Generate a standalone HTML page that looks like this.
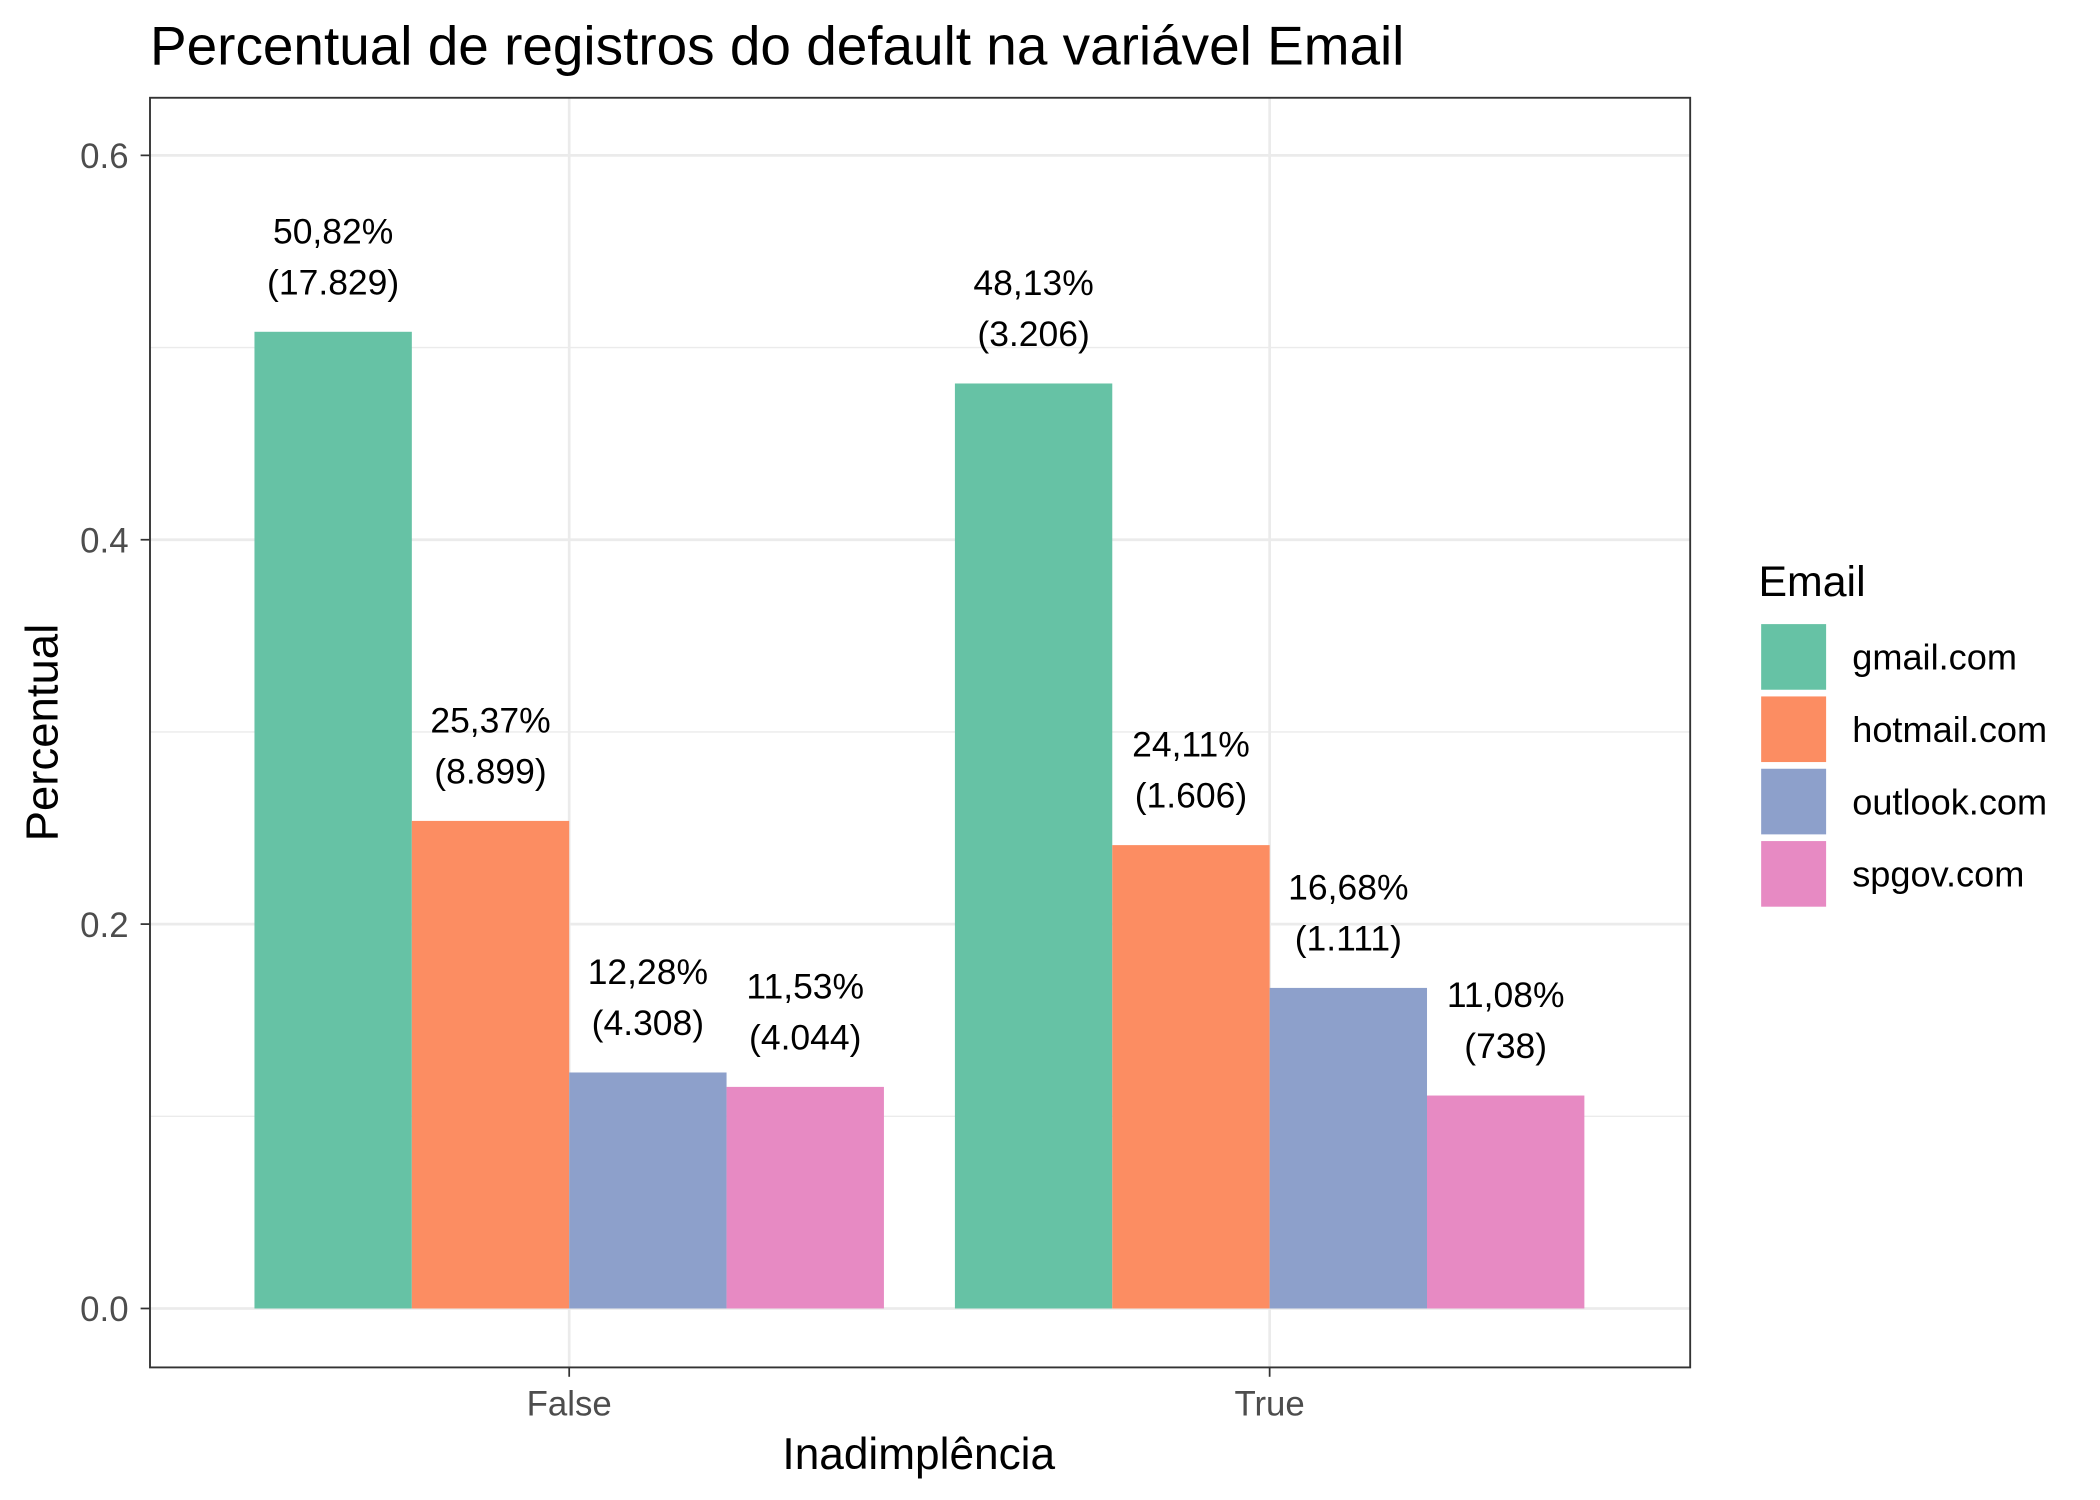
<!DOCTYPE html>
<html><head><meta charset="utf-8"><style>html,body{margin:0;padding:0;background:#fff}svg{display:block}text{font-family:"Liberation Sans",Arial,sans-serif}</style></head>
<body>
<svg id="chart" width="2100" height="1500" viewBox="0 0 1568 1120" preserveAspectRatio="none" xmlns="http://www.w3.org/2000/svg">
<rect width="1568" height="1120" fill="#fff"/>
<text x="112" y="48" font-size="41" fill="#000">Percentual de registros do default na variável Email</text>
<g id="grid"></g>
<g id="bars"></g>
<g id="labels"></g>
<rect x="112" y="73" width="1150" height="948" fill="none" stroke="#333" stroke-width="1.4"/>
<g id="axes"></g>
<text x="686" y="1097" font-size="33" text-anchor="middle" fill="#000">Inadimplência</text>
<text x="0" y="0" font-size="34" text-anchor="middle" fill="#000" transform="translate(43,547) rotate(-90)">Percentual</text>
<g id="legend"><text x="1313" y="445" font-size="32" fill="#000">Email</text></g>
</svg>
<script>
const categories = ["False","True"];
const series = ["gmail.com","hotmail.com","outlook.com","spgov.com"];
const colors = ["#66c2a5","#fc8d62","#8da0cb","#e78ac3"];
const valuesFalse = [0.5082,0.2537,0.1228,0.1153];
const valuesTrue = [0.4813,0.2411,0.1668,0.1108];
const countsFalse = ["17.829","8.899","4.308","4.044"];
const countsTrue = ["3.206","1.606","1.111","738"];
const pctFalse = ["50,82%","25,37%","12,28%","11,53%"];
const pctTrue = ["48,13%","24,11%","16,68%","11,08%"];
const yTicks = [0,0.2,0.4,0.6];
const yTickLabels = ["0.0","0.2","0.4","0.6"];
const yMinor = [0.1,0.3,0.5];

const NS="http://www.w3.org/2000/svg";
const y0=977, y6=116;
function yScale(v){return y0-(y0-y6)*v/0.6;}
const xCenters=[425,948];
function xScale(i){return xCenters[i];}
const groupW=470, barW=groupW/series.length;
function mk(tag,attrs,parent){const e=document.createElementNS(NS,tag);for(const k in attrs)e.setAttribute(k,attrs[k]);document.getElementById(parent).appendChild(e);return e;}

yMinor.forEach(v=>{const l=mk('line',{x1:112,x2:1262,y1:yScale(v),y2:yScale(v),stroke:'#ebebeb','stroke-width':1},'grid');

});
yTicks.forEach((v,i)=>{const l=mk('line',{x1:112,x2:1262,y1:yScale(v),y2:yScale(v),stroke:'#ebebeb','stroke-width':2},'grid');


const t=mk('line',{x1:105,x2:112,y1:yScale(v),y2:yScale(v),stroke:'#333','stroke-width':1.3},'axes');


const tx=mk('text',{x:96,y:yScale(v)+9.5,'font-size':26,'text-anchor':'end',fill:'#4d4d4d'},'axes');tx.textContent=yTickLabels[i];

});
categories.forEach((c,i)=>{const x=xScale(i);
const l=mk('line',{x1:x,x2:x,y1:73,y2:1021,stroke:'#ebebeb','stroke-width':2},'grid');


const t=mk('line',{x1:x,x2:x,y1:1021,y2:1028,stroke:'#333','stroke-width':1.3},'axes');


const tx=mk('text',{x:x,y:1057,'font-size':26,'text-anchor':'middle',fill:'#4d4d4d'},'axes');tx.textContent=c;


const vals=i===0?valuesFalse:valuesTrue, cnts=i===0?countsFalse:countsTrue, pcts=i===0?pctFalse:pctTrue;
vals.forEach((v,j)=>{const bx=x-groupW/2+j*barW, top=yScale(v);
const r=mk('rect',{x:bx,y:top,width:barW,height:y0-top,fill:colors[j]},'bars');


const cx=bx+barW/2;
const a=mk('text',{x:cx,y:top-66,'font-size':26.5,'text-anchor':'middle',fill:'#000'},'labels');a.textContent=pcts[j];


const b=mk('text',{x:cx,y:top-28,'font-size':26.5,'text-anchor':'middle',fill:'#000'},'labels');b.textContent='('+cnts[j]+')';

});});
series.forEach((s,j)=>{const y=466+j*54;
const r=mk('rect',{x:1315,y:y,width:48.5,height:49,fill:colors[j]},'legend');


const t=mk('text',{x:1383,y:y+34,'font-size':27,fill:'#000'},'legend');t.textContent=s;

});
</script>
</body></html>
